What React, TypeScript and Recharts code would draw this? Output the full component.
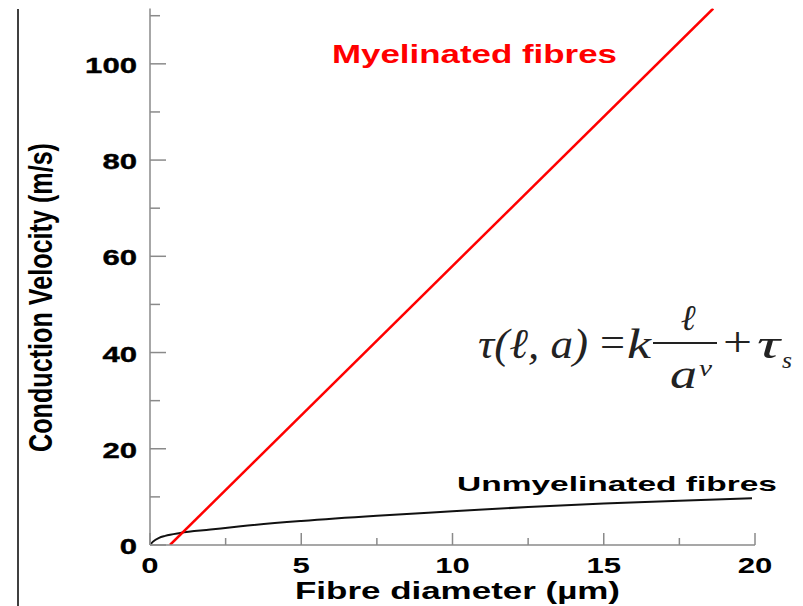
import { LineChart, Line, XAxis, YAxis } from "recharts";

// values
const myelinDiameter = [0.66, 18.62];
const myelinVelocity = [0, 111.5];

const unmyelinDiameter = [0, 0.1, 0.3, 0.5, 1, 2, 3, 5, 7.5, 10, 12.5, 15, 17.5, 19.9];
const unmyelinVelocity = [0, 0.7, 1.5, 1.9, 2.5, 3.2, 3.9, 5.0, 6.1, 7.0, 7.9, 8.6, 9.2, 9.7];

const xTicks = [0, 2.5, 5, 7.5, 10, 12.5, 15, 17.5, 20];
const xTickLabels = ["0", "", "5", "", "10", "", "15", "", "20"];
const yTicks = [0, 10, 20, 30, 40, 50, 60, 70, 80, 90, 100, 110];
const yTickLabels = ["0", "", "20", "", "40", "", "60", "", "80", "", "100", ""];

const myelinData = myelinDiameter.map((d, i) => ({ d, v: myelinVelocity[i] }));
const unmyelinData = unmyelinDiameter.map((d, i) => ({ d, v: unmyelinVelocity[i] }));

const AXIS = "#8a8a8a";
const SANS = "'Liberation Sans', Arial, sans-serif";
const SERIF = "'Liberation Serif', 'Times New Roman', serif";

const XTick = (props: any) => {
  const { x, y, index } = props;
  const label = xTickLabels[index];
  const major = label !== "";
  return (
    <g>
      <line x1={x} x2={x} y1={y} y2={y - (major ? 12 : 7)} stroke={AXIS} strokeWidth={1.5} />
      {major && (
        <text
          x={x}
          y={y + 28}
          textAnchor="middle"
          fontFamily={SANS}
          fontWeight="bold"
          fontSize={22}
          fill="#000"
          textLength={17.3 * label.length}
          lengthAdjust="spacingAndGlyphs"
        >
          {label}
        </text>
      )}
    </g>
  );
};

const YTick = (props: any) => {
  const { x, y, index } = props;
  const label = yTickLabels[index];
  const major = label !== "";
  return (
    <g>
      <line x1={x} x2={x + (major ? 16 : 10)} y1={y} y2={y} stroke={AXIS} strokeWidth={1.5} />
      {major && (
        <text
          x={x - 13}
          y={y + 9}
          textAnchor="end"
          fontFamily={SANS}
          fontWeight="bold"
          fontSize={22}
          fill="#000"
          stroke="#000"
          strokeWidth={0.4}
          textLength={17.3 * label.length}
          lengthAdjust="spacingAndGlyphs"
        >
          {label}
        </text>
      )}
    </g>
  );
};

export default function App() {
  return (
    <div style={{ position: "absolute", left: 0, top: 0, width: 803, height: 606, background: "#fff" }}>
      <LineChart width={803} height={606} margin={{ top: 8.5, right: 48, bottom: 0, left: 0 }}>
        <XAxis
          type="number"
          dataKey="d"
          domain={[0, 20]}
          ticks={xTicks}
          interval={0}
          height={61}
          tickSize={0}
          tickMargin={0}
          tickLine={false}
          axisLine={{ stroke: AXIS, strokeWidth: 1.5 }}
          tick={<XTick />}
          allowDataOverflow
        />
        <YAxis
          type="number"
          dataKey="v"
          domain={[0, 111.5]}
          ticks={yTicks}
          interval={0}
          width={150}
          tickSize={0}
          tickMargin={0}
          tickLine={false}
          axisLine={{ stroke: AXIS, strokeWidth: 1.5 }}
          tick={<YTick />}
          allowDataOverflow
        />
        <Line
          data={unmyelinData}
          dataKey="v"
          type="monotone"
          stroke="#111"
          strokeWidth={2}
          dot={false}
          isAnimationActive={false}
        />
        <Line
          data={myelinData}
          dataKey="v"
          type="linear"
          stroke="#ff0000"
          strokeWidth={2.5}
          dot={false}
          isAnimationActive={false}
        />
      </LineChart>

      <svg
        width={803}
        height={606}
        style={{ position: "absolute", left: 0, top: 0, pointerEvents: "none" }}
      >
        <line x1={18} x2={18} y1={9} y2={606} stroke="#000" strokeWidth={1.5} />
        <text
          transform="translate(52, 297.5) scale(1.33, 1) rotate(-90)"
          textAnchor="middle"
          fontFamily={SANS}
          fontWeight="bold"
          fontSize={25}
          fill="#000"
          textLength={309}
          lengthAdjust="spacingAndGlyphs"
        >
          Conduction Velocity (m/s)
        </text>
        <text
          x={295}
          y={599}
          fontFamily={SANS}
          fontWeight="bold"
          fontSize={23}
          fill="#000"
          textLength={325}
          lengthAdjust="spacingAndGlyphs"
        >
          Fibre diameter (µm)
        </text>
        <text
          x={332}
          y={63}
          fontFamily={SANS}
          fontWeight="bold"
          fontSize={25}
          fill="#ff0000"
          textLength={285}
          lengthAdjust="spacingAndGlyphs"
        >
          Myelinated fibres
        </text>
        <text
          x={457}
          y={491}
          fontFamily={SANS}
          fontWeight="bold"
          fontSize={21}
          fill="#000"
          textLength={320}
          lengthAdjust="spacingAndGlyphs"
        >
          Unmyelinated fibres
        </text>

        {/* formula */}
        <g fontFamily={SERIF} fill="#222">
          <text x={478} y={358} fontSize={42} fontStyle="italic" textLength={110} lengthAdjust="spacingAndGlyphs">
            τ(ℓ, a)
          </text>
          <text x={600} y={356} fontSize={42} textLength={25} lengthAdjust="spacingAndGlyphs">
            =
          </text>
          <text x={627} y={358} fontSize={42} fontStyle="italic" textLength={24} lengthAdjust="spacingAndGlyphs">
            k
          </text>
          <line x1={653} x2={717} y1={343} y2={343} stroke="#222" strokeWidth={2} />
          <text x={688} y={330} fontSize={36} fontStyle="italic" textAnchor="middle">
            ℓ
          </text>
          <text x={670} y={388} fontSize={42} fontStyle="italic" textLength={27} lengthAdjust="spacingAndGlyphs">
            a
          </text>
          <text x={699} y={376} fontSize={24} fontStyle="italic" textLength={13} lengthAdjust="spacingAndGlyphs">
            ν
          </text>
          <text x={723} y={356} fontSize={42} textLength={29} lengthAdjust="spacingAndGlyphs">
            +
          </text>
          <text x={757} y={358} fontSize={42} fontStyle="italic" textLength={23} lengthAdjust="spacingAndGlyphs">
            τ
          </text>
          <text x={782} y={368} fontSize={24} fontStyle="italic" textLength={10} lengthAdjust="spacingAndGlyphs">
            s
          </text>
        </g>
      </svg>
    </div>
  );
}
